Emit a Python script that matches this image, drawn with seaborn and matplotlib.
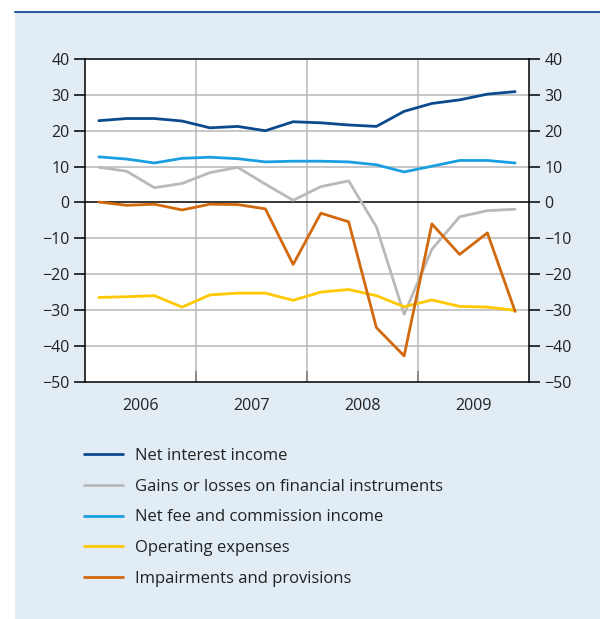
import numpy as np
import pandas as pd
import seaborn as sns
import matplotlib
matplotlib.use("Agg")
import matplotlib.pyplot as plt
from matplotlib.lines import Line2D

years = [2006, 2007, 2008, 2009]
quarters = [f"{y}Q{q}" for y in years for q in range(1, 5)]

net_interest = [22.8, 23.4, 23.4, 22.7, 20.8, 21.2, 20.0, 22.5,
                22.2, 21.6, 21.2, 25.4, 27.6, 28.6, 30.2, 30.9]
gains_losses = [9.8, 8.7, 4.1, 5.3, 8.3, 9.8, 5.1, 0.6,
                4.4, 6.0, -6.8, -31.2, -13.1, -4.0, -2.3, -1.9]
net_fee = [12.7, 12.1, 11.0, 12.3, 12.6, 12.2, 11.3, 11.5,
           11.5, 11.3, 10.5, 8.5, 10.1, 11.7, 11.7, 11.0]
operating_exp = [-26.5, -26.3, -26.0, -29.2, -25.8, -25.3, -25.3, -27.3,
                 -25.0, -24.3, -26.0, -29.1, -27.2, -29.0, -29.2, -30.1]
impairments = [0.1, -0.8, -0.5, -2.1, -0.5, -0.6, -1.8, -17.3,
               -3.0, -5.4, -34.9, -42.8, -6.0, -14.5, -8.5, -30.4]

series_names = ["Net interest income", "Gains or losses on financial instruments",
                "Net fee and commission income", "Operating expenses",
                "Impairments and provisions"]
series_vals = [net_interest, gains_losses, net_fee, operating_exp, impairments]
colors = ["#0b4a8d", "#b9b9b9", "#1a9fe0", "#ffc800", "#d2690c"]

# quarter midpoints as fractional years
xpos = [y + (q - 0.5) / 4 for y in years for q in range(1, 5)]

rows = []
for name, vals in zip(series_names, series_vals):
    for q, x, v in zip(quarters, xpos, vals):
        rows.append({"quarter": q, "x": x, "value": v, "series": name})
df = pd.DataFrame(rows)

sns.set_theme(style="white")
plt.rcParams['font.family'] = ['Open Sans', 'DejaVu Sans']

BG = "#e1ecf4"
fig = plt.figure(figsize=(6.0, 6.19), dpi=100)
fig.patch.set_facecolor(BG)
# white margins left and top
fig.patches.append(plt.Rectangle((0, 0), 15 / 600, 1, transform=fig.transFigure,
                                 facecolor="white", edgecolor="none", zorder=0))
fig.patches.append(plt.Rectangle((0, 1 - 11 / 619), 1, 11 / 619, transform=fig.transFigure,
                                 facecolor="white", edgecolor="none", zorder=0))
fig.lines.append(Line2D([15 / 600, 1], [1 - 11.5 / 619, 1 - 11.5 / 619],
                        transform=fig.transFigure, color="#2b5c9c", lw=1.5, zorder=1))

ax = fig.add_axes([85 / 600, 1 - 381.7 / 619, (529 - 85) / 600, (381.7 - 59) / 619])
ax.set_zorder(5)
ax.set_facecolor("white")

sns.lineplot(data=df, x="x", y="value", hue="series", hue_order=series_names,
             palette=colors, linewidth=2.0, ax=ax, legend=False, zorder=3)

ax.set_xlim(2006, 2010)
ax.set_ylim(-50, 40)
ax.set_yticks(np.arange(-50, 41, 10))
ax.set_xlabel("")
ax.set_ylabel("")

# gridlines
for yv in range(-40, 40, 10):
    if yv != 0:
        ax.axhline(yv, color="#b8b8b8", lw=1.1, zorder=1)
for xv in [2007, 2008, 2009]:
    ax.axvline(xv, color="#b8b8b8", lw=1.1, zorder=1)
ax.axhline(0, color="black", lw=1.1, zorder=2)

for s in ax.spines.values():
    s.set_color("black")
    s.set_linewidth(1.1)

# x: year boundaries as inward ticks, labels at mid-year
ax.set_xticks([2007, 2008, 2009])
ax.set_xticklabels([])
ax.tick_params(axis="x", which="major", direction="in", length=8, width=1.4,
               color="black", bottom=True)
ax.set_xticks([y + 0.5 for y in years], minor=True)
ax.set_xticklabels([str(y) for y in years], minor=True)
ax.tick_params(axis="x", which="minor", length=0, pad=12, labelsize=11.5, labelcolor="#222222")

ax.tick_params(axis="y", direction="out", length=8, width=1.1, color="black",
               left=True, right=True, labelleft=True, labelright=True,
               labelsize=11.5, labelcolor="#222222", pad=3)

handles = [Line2D([], [], color=c, lw=2.0) for c in colors]
fig.legend(handles, series_names, loc="upper left",
           bbox_to_anchor=(69 / 600, 1 - 433 / 619), frameon=False,
           fontsize=12, handlelength=2.35, handletextpad=0.7, labelspacing=0.88,
           labelcolor="#222222")

fig.savefig("out.png", dpi=100)
